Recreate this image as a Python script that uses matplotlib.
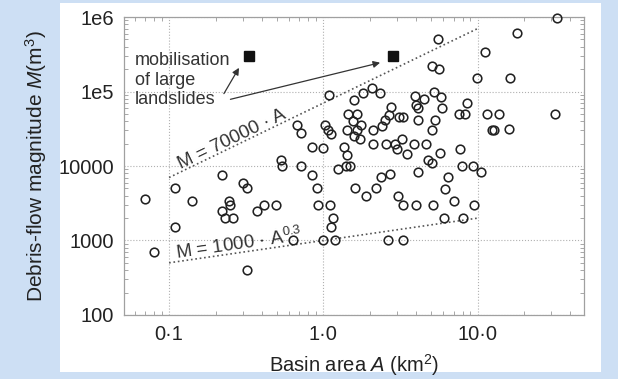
import numpy as np
import matplotlib
matplotlib.use("Agg")
import matplotlib.pyplot as plt

plt.rcParams['font.family'] = ['Liberation Sans', 'DejaVu Sans']
plt.rcParams['mathtext.fontset'] = 'custom'
plt.rcParams['mathtext.rm'] = 'Liberation Sans'
plt.rcParams['mathtext.it'] = 'Liberation Sans:italic'

# --- dati ---
area = [0.07, 0.08, 0.11, 0.11, 0.14, 0.22, 0.22, 0.23, 0.26, 0.245, 0.25, 0.30, 0.32, 0.32,
        0.37, 0.41, 0.49, 0.53, 0.54, 0.64, 0.68, 0.72, 0.72, 0.84, 0.85, 0.91, 0.93, 1.0,
        0.99, 1.03, 1.09, 1.08, 1.12, 1.10, 1.16, 1.12, 1.19, 1.24, 1.37, 1.42, 1.41, 1.50,
        1.45, 1.65, 1.55, 1.75, 1.42, 1.65, 1.57, 1.72, 1.57, 1.6, 1.81, 2.07, 2.33, 1.9,
        2.1, 2.1, 2.2, 2.36, 2.4, 2.5, 2.55, 2.62, 2.66, 2.7, 2.73, 2.9, 3.0, 3.04, 3.09,
        3.27, 3.23, 3.27, 3.3, 3.5, 3.86, 3.95, 3.97, 3.97, 4.09, 4.14, 4.14, 4.5, 4.66,
        4.74, 5.1, 5.1, 5.15, 5.25, 5.3, 5.03, 5.63, 5.5, 5.73, 5.8, 5.9, 6.1, 6.15, 6.4,
        7.05, 7.7, 7.6, 8.3, 8.5, 7.9, 9.4, 8.1, 9.5, 9.9, 10.5, 11.1, 11.5, 13.7, 12.4,
        12.7, 15.9, 16.2, 18.0, 31.9, 32.5]
volume = [3600, 700, 5000, 1500, 3400, 7500, 2500, 2000, 2000, 3400, 3000, 6000, 5000, 400,
          2500, 3000, 3000, 12000, 10000, 1000, 35000, 28000, 10000, 18000, 7500, 5000, 3000, 17500,
          1000, 35000, 90000, 30000, 27000, 3000, 2000, 1500, 1000, 9200, 18000, 14000, 10000, 10000,
          50000, 50000, 40000, 35000, 30000, 30000, 25000, 23000, 76000, 5000, 96000, 112000, 95000, 4000,
          30000, 20000, 5000, 7100, 34000, 41000, 20000, 1000, 48000, 7900, 62000, 20000, 17000, 4000, 45000,
          45000, 23000, 3000, 1000, 14600, 20000, 86000, 66000, 3000, 8400, 60000, 41000, 80000, 20000,
          12000, 11000, 30000, 3000, 100000, 41000, 220000, 202000, 500000, 15000, 84000, 60000, 2000, 4900, 7100,
          3400, 17000, 50000, 50000, 70000, 10000, 10000, 2000, 3000, 150000, 8200, 340000, 50000, 50000, 30000,
          30000, 31000, 150000, 620000, 50000, 980000]

frane_area = [0.33, 2.85]
frane_volume = [300000, 300000]

x_ticks = [0.1, 1, 10]
x_labels = ['0·1', '1·0', '10·0']
y_ticks = [100, 1000, 10000, 100000, 1000000]
y_labels = ['100', '1000', '10000', '1e5', '1e6']

# --- figura ---
fig = plt.figure(figsize=(6.18, 3.79), dpi=100, facecolor='#cddff4')
sfondo = fig.add_axes([0.097, 0.018, 0.875, 0.974], zorder=-1)
sfondo.set_facecolor('white')
sfondo.set_xticks([])
sfondo.set_yticks([])
for s in sfondo.spines.values():
    s.set_visible(False)

ax = fig.add_axes([0.2006, 0.169, 0.7444, 0.786])
ax.set_xscale('log')
ax.set_yscale('log')
ax.set_xlim(0.051, 49)
ax.set_ylim(100, 1e6)

ax.grid(True, which='major', linestyle=':', color='#b0b0b0', linewidth=0.8)
for s in ax.spines.values():
    s.set_color('#a0a0a0')
    s.set_linewidth(0.9)
ax.tick_params(which='both', direction='in', top=True, right=True, color='#999999')
ax.tick_params(which='major', length=0, labelsize=14.5, labelcolor='#222222', pad=7)
ax.tick_params(which='minor', length=3, width=0.6)
ax.set_xticks(x_ticks)
ax.set_xticklabels(x_labels)
ax.set_yticks(y_ticks)
ax.set_yticklabels(y_labels)

# rette di riferimento
a_line = np.array([0.1, 10])
ax.plot(a_line, 70000 * a_line, linestyle=':', color='#555555', linewidth=1.2)
a_fine = np.logspace(-1, 1, 50)
ax.plot(a_fine, 1000 * a_fine ** 0.3, linestyle=':', color='#555555', linewidth=1.2)

ax.plot(area, volume, 'o', markerfacecolor='none', markeredgecolor='#222222',
        markersize=6.2, markeredgewidth=1.15, clip_on=False, zorder=3)
ax.plot(frane_area, frane_volume, 's', color='#111111', markersize=7, zorder=4)


def angolo(x0, y0, x1, y1):
    p0 = ax.transData.transform((x0, y0))
    p1 = ax.transData.transform((x1, y1))
    return np.degrees(np.arctan2(p1[1] - p0[1], p1[0] - p0[0]))


ax.text(0.255, 23000, 'M = 70000 · A', fontsize=13.5, color='#333333', ha='center', va='center',
        rotation=angolo(0.1, 7000, 10, 700000), rotation_mode='anchor')
ax.text(0.285, 910, 'M = 1000 · A$^{0.3}$', fontsize=13.5, color='#333333', ha='center', va='center',
        rotation=angolo(0.1, 501, 10, 1995), rotation_mode='anchor')

ax.text(0.06, 1.42e5, 'mobilisation\nof large\nlandslides', fontsize=13, color='#333333',
        ha='left', va='center', linespacing=1.2)
ax.annotate('', xy=(0.29, 2.24e5), xytext=(0.222, 8.7e4),
            arrowprops=dict(arrowstyle='-|>', color='#333333', lw=0.9, mutation_scale=10))
ax.annotate('', xy=(2.43, 2.49e5), xytext=(0.24, 7.7e4),
            arrowprops=dict(arrowstyle='-|>', color='#333333', lw=0.9, mutation_scale=10))

ax.set_xlabel('Basin area $A$ (km$^2$)', fontsize=14.5, color='#222222', labelpad=6)
ax.set_ylabel('Debris-flow magnitude $M$(m$^3$)', fontsize=15, color='#222222', labelpad=7)

plt.savefig('out.png', dpi=100, facecolor=fig.get_facecolor())
